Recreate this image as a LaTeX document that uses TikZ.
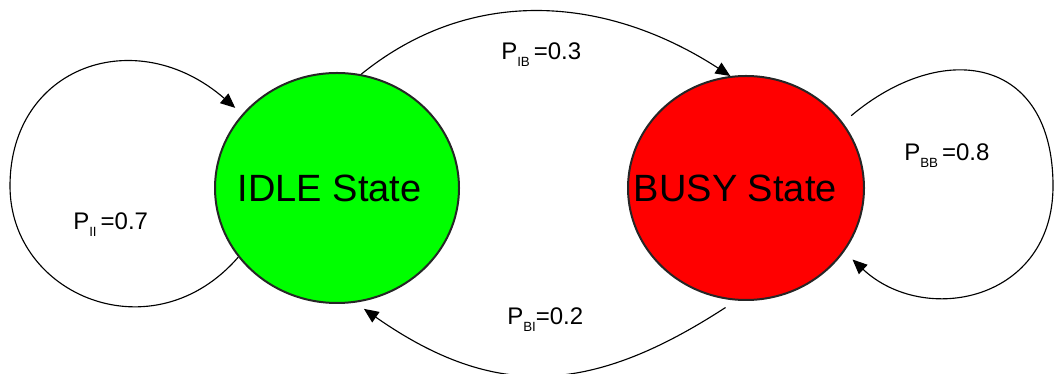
\documentclass[tikz,border=0pt]{standalone}
\usepackage{fontspec}
\setmainfont{Liberation Sans}
\usetikzlibrary{arrows.meta,positioning,shapes.geometric}
\tikzset{
  state/.style={ellipse, draw=black!85, line width=1.5pt, inner sep=0pt},
  statetext/.style={font=\fontsize{28.5}{30}\selectfont},
  prob/.style={inner sep=0pt, anchor=base west, font=\fontsize{18}{20}\selectfont},
  arrow/.style={-{Triangle[length=11pt,width=9.5pt]}, line width=0.85pt},
}
\newcommand{\lowsub}[1]{\raisebox{-5pt}{\fontsize{10}{10}\selectfont #1}}

\begin{document}
\begin{tikzpicture}[x=0.75pt, y=0.75pt]
\useasboundingbox (0,0) rectangle (1055,374);
\node[state, fill=green, minimum width=183pt, minimum height=172.5pt,
  label={[statetext, xshift=-5.5pt]center:IDLE State}] (idle) at (337,186) {};
\node[state, fill=red, minimum width=177pt, minimum height=168pt, right=125.25pt of idle,
  label={[statetext, xshift=-8pt]center:BUSY State}] (busy) {};

\coordinate (iiloop) at (10,188);
\coordinate (bbloop) at (1053,188);

\draw[arrow, shorten >=7pt] (idle.215) .. controls +(-85,-98) and +(0,-110) .. (iiloop)
  .. controls +(0,120) and +(-106,92) .. (idle.142);
\draw[arrow, shorten <=8pt, shorten >=8.5pt] (busy.34) .. controls +(99.6,83.6) and +(0,130) .. (bbloop)
  .. controls +(0,-115) and +(80.4,-75) .. (busy.-33);
\draw[arrow] (idle.78) to[out=39, in=147] (busy.98);
\draw[arrow, shorten <=9.5pt, shorten >=8pt] (busy.-95) to[out=213, in=-35, looseness=1.15] (idle.-81);

\node[prob] (pib) at (501,314) {P\lowsub{IB}\,=0.3};
\node[prob] (pbb) at (904,213) {P\lowsub{BB}\,=0.8};
\node[prob] (pbi) at (507,49) {P\lowsub{BI}=0.2};
\node[prob] (pii) at (73,144) {P\lowsub{II}\,=0.7};
\end{tikzpicture}
\end{document}
